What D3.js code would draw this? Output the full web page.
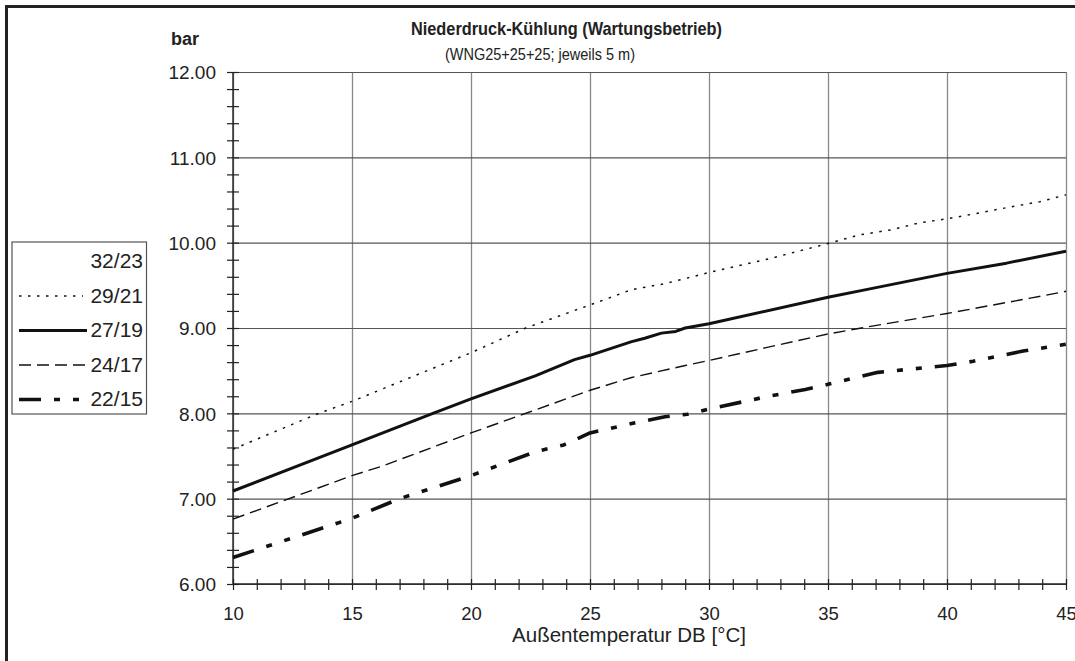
<!DOCTYPE html>
<html>
<head>
<meta charset="utf-8">
<script src="https://cdn.jsdelivr.net/npm/d3@7"></script>
<style>
  html, body { margin: 0; padding: 0; background: #fff; }
  svg { display: block; font-family: "Liberation Sans", Arial, sans-serif; }
</style>
</head>
<body>
<svg id="chart" width="1075" height="661"></svg>
<script>
// Outdoor temperature (°C) and low-pressure values (bar) per indoor condition
const series3223Temp = [];
const series3223Bar = [];

const series2921Temp = [10, 13.6, 15, 20, 22.3, 25, 26.75, 28.15, 30, 32.65, 35, 36.3, 37.65, 38.8, 40, 41.4, 42.5, 43.9, 45];
const series2921Bar  = [7.58, 8.00, 8.14, 8.71, 9.00, 9.27, 9.45, 9.52, 9.65, 9.82, 9.99, 10.09, 10.15, 10.23, 10.28, 10.35, 10.41, 10.48, 10.56];

const series2719Temp = [10, 15, 18.4, 20, 22.7, 24.35, 25, 26.75, 27.3, 28, 28.6, 29, 30, 35, 36.6, 40, 42.5, 45];
const series2719Bar  = [7.09, 7.63, 8.00, 8.17, 8.44, 8.63, 8.68, 8.84, 8.88, 8.94, 8.96, 9.00, 9.05, 9.36, 9.45, 9.64, 9.76, 9.90];

const series2417Temp = [10, 15, 16.25, 20, 22.4, 25, 26.75, 29, 30, 32.4, 35, 36.4, 40, 43.5, 45];
const series2417Bar  = [6.76, 7.27, 7.38, 7.77, 8.01, 8.27, 8.42, 8.56, 8.62, 8.77, 8.93, 9.00, 9.17, 9.35, 9.43];

const series2215Temp = [10, 15, 17, 20, 22.7, 23.9, 25, 26.75, 28.15, 29.1, 30, 32.5, 34.05, 35, 37.1, 40, 41.1, 43.2, 45];
const series2215Bar  = [6.31, 6.77, 7.00, 7.27, 7.55, 7.63, 7.77, 7.88, 7.96, 7.99, 8.05, 8.20, 8.28, 8.34, 8.48, 8.56, 8.61, 8.73, 8.81];

const seriesNames = ["32/23", "29/21", "27/19", "24/17", "22/15"];

const xTickLabels = [10, 15, 20, 25, 30, 35, 40, 45];
const yTickLabels = [6, 7, 8, 9, 10, 11, 12];

const titleText = "Niederdruck-Kühlung (Wartungsbetrieb)";
const subtitleText = "(WNG25+25+25; jeweils 5 m)";
const yUnitText = "bar";
const xAxisText = "Außentemperatur DB [°C]";

// Line styles per series
const styles = [
  { width: 0, dash: null, stroke: "none" },
  { width: 1.5, dash: "2.5,6.5", stroke: "#111" },
  { width: 3, dash: null, stroke: "#111" },
  { width: 1.4, dash: "12,6", stroke: "#111" },
  { width: 3.6, dash: "22,13,6,13,6,13", stroke: "#111" }
];

const seriesData = [
  [series3223Temp, series3223Bar],
  [series2921Temp, series2921Bar],
  [series2719Temp, series2719Bar],
  [series2417Temp, series2417Bar],
  [series2215Temp, series2215Bar]
].map(([t, v]) => t.map((d, i) => ({ t: d, v: v[i] })));

const svg = d3.select("#chart");

const plotLeft = 233, plotRight = 1066, plotTop = 72, plotBottom = 584;
const x = d3.scaleLinear().domain([10, 45]).range([plotLeft, plotRight]);
const y = d3.scaleLinear().domain([6, 12]).range([plotBottom, plotTop]);

// Outer frame (only top and left edges fall inside the view)
svg.append("rect")
  .attr("x", 6.5).attr("y", 6.5)
  .attr("width", 1200).attr("height", 800)
  .attr("fill", "none").attr("stroke", "#222").attr("stroke-width", 3);

// Grid
svg.append("g")
  .attr("transform", `translate(0,${plotBottom})`)
  .call(d3.axisBottom(x).tickValues(xTickLabels).tickSize(-(plotBottom - plotTop)).tickFormat(""))
  .call(g => g.select(".domain").remove())
  .call(g => g.selectAll("line").attr("stroke", "#888").attr("stroke-width", 1.3));

svg.append("g")
  .attr("transform", `translate(${plotLeft},0)`)
  .call(d3.axisLeft(y).tickValues(yTickLabels).tickSize(-(plotRight - plotLeft)).tickFormat(""))
  .call(g => g.select(".domain").remove())
  .call(g => g.selectAll("line").attr("stroke", "#555").attr("stroke-width", 1.2));

// Minor ticks crossing the axes
const xMinor = d3.range(10, 45.01, 1);
const yMinor = d3.range(6, 12.01, 0.2);

function styleTicks(g) {
  g.select(".domain").remove();
  g.selectAll("line").attr("stroke", "#222").attr("stroke-width", 1.2);
}

svg.append("g").attr("transform", `translate(0,${plotBottom})`)
  .call(d3.axisBottom(x).tickValues(xMinor).tickSize(6).tickFormat("")).call(styleTicks);
svg.append("g").attr("transform", `translate(0,${plotBottom})`)
  .call(d3.axisTop(x).tickValues(xMinor).tickSize(5).tickFormat("")).call(styleTicks);
svg.append("g").attr("transform", `translate(${plotLeft},0)`)
  .call(d3.axisLeft(y).tickValues(yMinor).tickSize(6).tickFormat("")).call(styleTicks);
svg.append("g").attr("transform", `translate(${plotLeft},0)`)
  .call(d3.axisRight(y).tickValues(yMinor).tickSize(6).tickFormat("")).call(styleTicks);

// Axis lines
svg.append("line").attr("x1", plotLeft).attr("x2", plotRight).attr("y1", plotBottom).attr("y2", plotBottom)
  .attr("stroke", "#222").attr("stroke-width", 1.4);
svg.append("line").attr("x1", plotLeft).attr("x2", plotLeft).attr("y1", plotTop).attr("y2", plotBottom)
  .attr("stroke", "#222").attr("stroke-width", 1.4);

// Tick labels
svg.append("g").attr("transform", `translate(0,${plotBottom})`)
  .call(d3.axisBottom(x).tickValues(xTickLabels).tickSize(0).tickFormat(d3.format("d")))
  .call(g => g.select(".domain").remove())
  .call(g => g.selectAll("text").attr("y", 36).attr("dy", null)
    .attr("font-size", 18.5).attr("font-family", "Liberation Sans, Arial, sans-serif").attr("fill", "#222"));

svg.append("g").attr("transform", `translate(${plotLeft},0)`)
  .call(d3.axisLeft(y).tickValues(yTickLabels).tickSize(0).tickPadding(17).tickFormat(d3.format(".2f")))
  .call(g => g.select(".domain").remove())
  .call(g => g.selectAll("text").attr("dy", "0.36em")
    .attr("font-size", 19).attr("font-family", "Liberation Sans, Arial, sans-serif").attr("fill", "#222"));

// Series lines
const line = d3.line().x(d => x(d.t)).y(d => y(d.v));
seriesData.forEach((data, i) => {
  if (!data.length) return;
  svg.append("path")
    .datum(data)
    .attr("d", line)
    .attr("fill", "none")
    .attr("stroke", styles[i].stroke)
    .attr("stroke-width", styles[i].width)
    .attr("stroke-dasharray", styles[i].dash)
    .attr("stroke-linejoin", "round");
});

// Titles
svg.append("text").attr("x", 411).attr("y", 35)
  .attr("font-size", 19).attr("font-weight", "bold").attr("fill", "#222")
  .attr("textLength", 311).attr("lengthAdjust", "spacingAndGlyphs")
  .text(titleText);
svg.append("text").attr("x", 445).attr("y", 60)
  .attr("font-size", 17).attr("fill", "#222")
  .attr("textLength", 190).attr("lengthAdjust", "spacingAndGlyphs")
  .text(subtitleText);
svg.append("text").attr("x", 171).attr("y", 45)
  .attr("font-size", 18).attr("font-weight", "bold").attr("fill", "#222")
  .text(yUnitText);
svg.append("text").attr("x", 629).attr("y", 642)
  .attr("text-anchor", "middle")
  .attr("font-size", 20.5).attr("fill", "#222")
  .text(xAxisText);

// Legend
const legend = svg.append("g");
legend.append("rect")
  .attr("x", 12).attr("y", 242).attr("width", 134.5).attr("height", 172)
  .attr("fill", "#fff").attr("stroke", "#555").attr("stroke-width", 1.2);

const legendY = d3.scalePoint().domain(seriesNames).range([260.5, 398.5]);
seriesNames.forEach((name, i) => {
  const cy = legendY(name);
  if (styles[i].width > 0) {
    legend.append("line")
      .attr("x1", 19).attr("x2", i === 1 || i === 4 ? 83 : 87)
      .attr("y1", cy + 1).attr("y2", cy + 1)
      .attr("stroke", styles[i].stroke)
      .attr("stroke-width", styles[i].width)
      .attr("stroke-dasharray", styles[i].dash);
  }
  legend.append("text")
    .attr("x", 143).attr("y", cy).attr("dy", "0.36em")
    .attr("text-anchor", "end")
    .attr("font-size", 21).attr("fill", "#222")
    .text(name);
});
</script>
</body>
</html>
